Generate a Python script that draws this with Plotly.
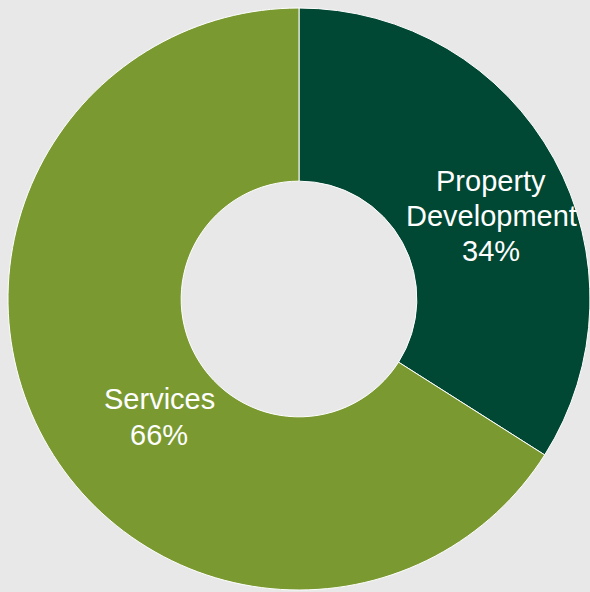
import plotly.graph_objects as go

# Revenue split by segment
segments = ["Property Development", "Services"]
shares = [34, 66]
colors = ["#004833", "#7A9A31"]

W, H = 590, 592
BG = "#E8E8E8"

fig = go.Figure(
    go.Pie(
        labels=segments,
        values=shares,
        sort=False,
        direction="clockwise",
        rotation=0,
        hole=0.405,
        marker=dict(colors=colors, line=dict(color="white", width=1)),
        textinfo="none",
        hoverinfo="label+percent",
        showlegend=False,
        domain=dict(x=[8 / W, 1.0], y=[1 - 590 / H, 1 - 8 / H]),
    )
)

# Slice labels, one line at a time: name words, then the share
label_anchor = [(491, 180.5), (159, 399.5)]  # centre of the first line, px
line_step = 35.3
total = sum(shares)
for name, val, (px, py) in zip(segments, shares, label_anchor):
    pct = round(100 * val / total)
    lines = name.split(" ") + [f"{pct}%"]
    for i, line in enumerate(lines):
        fig.add_annotation(
            x=px / W,
            y=1 - (py + i * line_step) / H,
            xref="paper",
            yref="paper",
            xanchor="center",
            yanchor="middle",
            text=line,
            showarrow=False,
            font=dict(family="Liberation Sans, Arial, sans-serif", size=29, color="white"),
            align="center",
        )

fig.update_layout(
    width=W,
    height=H,
    margin=dict(l=0, r=0, t=0, b=0),
    paper_bgcolor=BG,
    plot_bgcolor=BG,
)

fig.write_html("out.html")
